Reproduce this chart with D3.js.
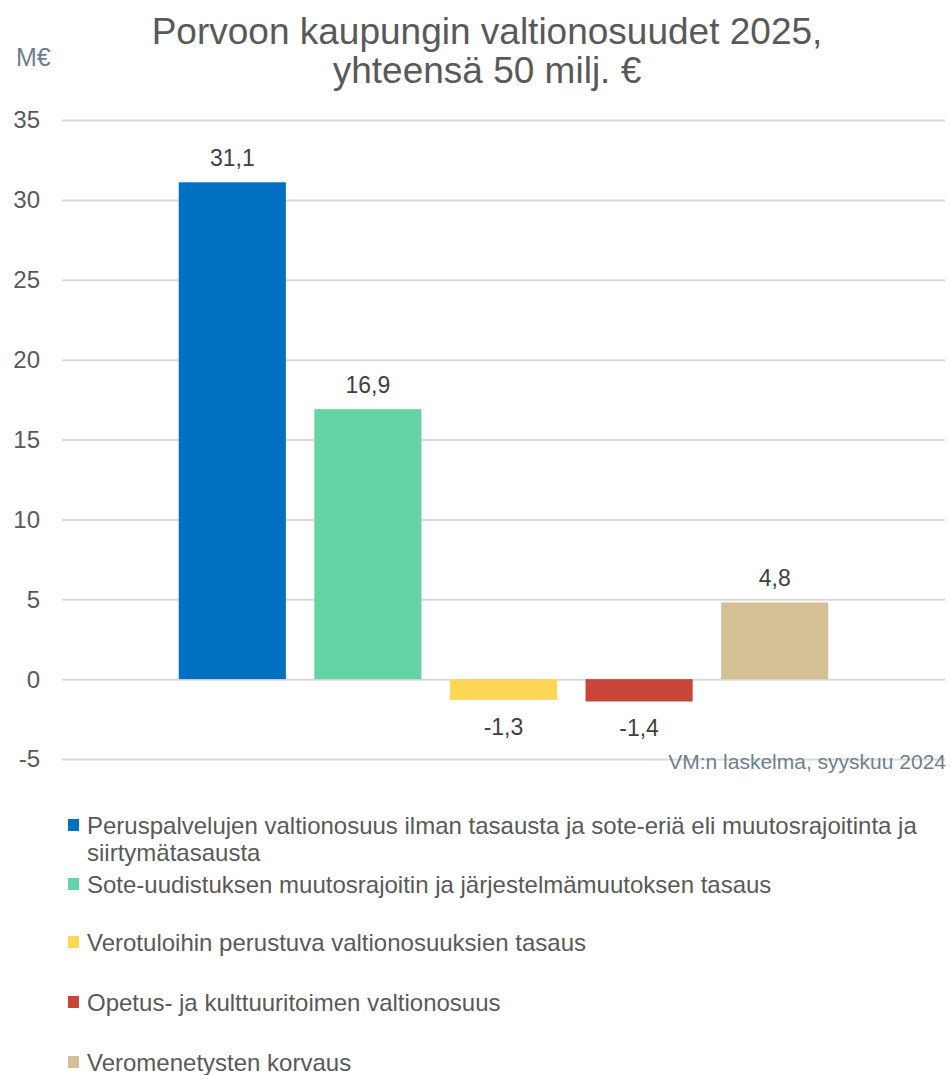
<!DOCTYPE html>
<meta charset="utf-8">
<style>
    body { margin: 0; background: #fff; }
    svg text { font-family: "Liberation Sans", Arial, sans-serif; }
    .grid line { stroke: #d9d9d9; stroke-width: 2px; }
    .grid path { display: none; }
</style>
<svg width="951" height="1075"></svg>
<script src="https://d3js.org/d3.v7.min.js"></script>
<script>

    var series = [
        "Peruspalvelujen valtionosuus ilman tasausta ja sote-eriä eli muutosrajoitinta ja siirtymätasausta",
        "Sote-uudistuksen muutosrajoitin ja järjestelmämuutoksen tasaus",
        "Verotuloihin perustuva valtionosuuksien tasaus",
        "Opetus- ja kulttuuritoimen valtionosuus",
        "Veromenetysten korvaus"
    ];
    var values = [31.1, 16.9, -1.3, -1.4, 4.8];
    var colors = ["#0070C0", "#66D3A6", "#FFD757", "#C9453A", "#D4C095"];
    var yTicks = [-5, 0, 5, 10, 15, 20, 25, 30, 35];

    var svg = d3.select("svg");

    var y = d3.scaleLinear().domain([-5, 35]).range([759, 120]);
    var x = d3.scaleBand()
        .domain(series)
        .range([164.5, 842.5])
        .paddingInner(0.21)
        .paddingOuter(0.105);

    var fmt = function (v) { return String(v.toFixed(1)).replace(".", ","); };

    // gridlines
    svg.append("g")
        .attr("class", "grid")
        .attr("transform", "translate(62,0)")
        .call(d3.axisLeft(y).tickValues(yTicks).tickSize(-883).tickFormat(""));

    // tick labels
    svg.append("g").selectAll("text")
        .data(yTicks)
        .enter().append("text")
        .attr("x", 40)
        .attr("y", function (d) { return y(d); })
        .attr("dy", "0.35em")
        .attr("text-anchor", "end")
        .attr("font-size", 24)
        .attr("fill", "#595959")
        .text(function (d) { return d; });

    // bars
    svg.append("g").selectAll("rect")
        .data(values)
        .enter().append("rect")
        .attr("x", function (d, i) { return x(series[i]); })
        .attr("width", x.bandwidth())
        .attr("y", function (d) { return y(Math.max(0, d)); })
        .attr("height", function (d) { return Math.abs(y(d) - y(0)); })
        .attr("fill", function (d, i) { return colors[i]; });

    // value labels
    svg.append("g").selectAll("text")
        .data(values)
        .enter().append("text")
        .attr("x", function (d, i) { return x(series[i]) + x.bandwidth() / 2; })
        .attr("y", function (d) { return d >= 0 ? y(d) - 16 : y(d) + 35; })
        .attr("text-anchor", "middle")
        .attr("font-size", 23)
        .attr("fill", "#404040")
        .text(fmt);

    // title
    var title = svg.append("text")
        .attr("text-anchor", "middle")
        .attr("font-size", 37)
        .attr("fill", "#595959");
    title.append("tspan").attr("x", 487).attr("y", 44).text("Porvoon kaupungin valtionosuudet 2025,");
    title.append("tspan").attr("x", 487).attr("y", 83).text("yhteensä 50 milj. €");

    svg.append("text")
        .attr("x", 16).attr("y", 66)
        .attr("font-size", 25)
        .attr("fill", "#6E7F8F")
        .text("M€");

    svg.append("text")
        .attr("x", 946).attr("y", 769)
        .attr("text-anchor", "end")
        .attr("font-size", 21)
        .attr("fill", "#6E7F8F")
        .text("VM:n laskelma, syyskuu 2024");

    // legend
    var legendY = [834, 893, 951, 1011, 1071];
    var legend = svg.append("g").selectAll("g")
        .data(series)
        .enter().append("g");

    legend.append("rect")
        .attr("x", 68)
        .attr("y", function (d, i) { return legendY[i] - 15; })
        .attr("width", 11)
        .attr("height", 12)
        .attr("fill", function (d, i) { return colors[i]; });

    legend.append("text")
        .attr("font-size", 24)
        .attr("fill", "#595959")
        .each(function (d, i) {
            var t = d3.select(this);
            var lines = i === 0
                ? ["Peruspalvelujen valtionosuus ilman tasausta ja sote-eriä eli muutosrajoitinta ja", "siirtymätasausta"]
                : [d];
            lines.forEach(function (l, k) {
                t.append("tspan").attr("x", 87).attr("y", legendY[i] + k * 27).text(l);
            });
        });

</script>
